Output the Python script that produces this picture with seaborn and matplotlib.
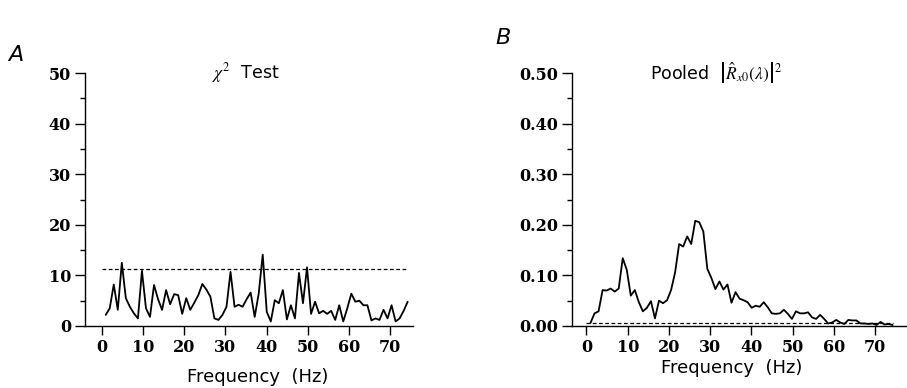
import numpy as np
import pandas as pd
import matplotlib
matplotlib.use("Agg")
import matplotlib.pyplot as plt
import seaborn as sns
from matplotlib.ticker import MultipleLocator

# ---------------- datos ----------------
# bins de frecuencia: muestreo 1000 Hz, FFT de 1024 puntos
bin_index = np.arange(1, 77)
freq_hz = bin_index * 1000.0 / 1024.0

# panel A: estadistico chi^2 por frecuencia
chi2_values = [
    2.2, 3.5, 8.2, 3.2, 12.5, 5.5, 3.8, 2.5, 1.5, 10.9,
    3.5, 1.8, 8.1, 5.3, 3.2, 7.1, 4.3, 6.3, 6.1, 2.4,
    5.5, 3.2, 4.6, 6.1, 8.3, 7.2, 5.8, 1.5, 1.2, 2.2,
    3.8, 10.7, 3.8, 4.2, 3.8, 5.3, 6.6, 1.8, 6.4, 14.1,
    2.8, 0.9, 5.1, 4.5, 7.1, 1.3, 4.1, 1.5, 10.5, 4.5,
    11.6, 2.4, 4.8, 2.5, 3.0, 2.4, 3.0, 1.2, 4.1, 0.9,
    3.5, 6.4, 4.8, 5.0, 4.1, 4.1, 1.1, 1.5, 1.2, 3.2,
    1.5, 4.1, 0.9, 1.5, 3.0, 4.8,
]
chi2_crit = 11.3

# panel B: coherencia agrupada |R_x0(lambda)|^2
coh_values = [
    0.006, 0.025, 0.029, 0.071, 0.070, 0.074, 0.068, 0.074, 0.134, 0.111,
    0.060, 0.071, 0.047, 0.029, 0.036, 0.049, 0.015, 0.050, 0.045, 0.051,
    0.071, 0.106, 0.162, 0.157, 0.177, 0.162, 0.208, 0.205, 0.187, 0.113,
    0.095, 0.073, 0.088, 0.072, 0.082, 0.046, 0.067, 0.054, 0.051, 0.047,
    0.036, 0.040, 0.038, 0.047, 0.037, 0.025, 0.024, 0.025, 0.032, 0.024,
    0.014, 0.029, 0.025, 0.025, 0.027, 0.017, 0.014, 0.022, 0.014, 0.005,
    0.007, 0.012, 0.007, 0.004, 0.012, 0.011, 0.011, 0.005, 0.005, 0.004,
    0.005, 0.002, 0.008, 0.003, 0.004, 0.002,
]
coh_crit = 0.006

x_ticks = [0, 10, 20, 30, 40, 50, 60, 70]

df = pd.DataFrame({"freq": freq_hz, "chi2": chi2_values, "coh": coh_values})

# ---------------- estilo ----------------
sns.set_style("ticks")
plt.rcParams["font.family"] = ["DejaVu Sans"]
plt.rcParams["mathtext.fontset"] = "stix"
plt.rcParams["text.color"] = "black"
plt.rcParams["axes.labelcolor"] = "black"

fig = plt.figure(figsize=(9.07, 3.88), dpi=100)
axA = fig.add_axes([0.0937, 0.1598, 0.3616, 0.652])
axB = fig.add_axes([0.6307, 0.1598, 0.3693, 0.652])


def style_axis(ax, xlim, ymax, ystep, fmt):
    ax.set_xlim(*xlim)
    ax.set_ylim(0, ymax)
    ax.set_xticks(x_ticks)
    ax.yaxis.set_major_locator(MultipleLocator(ystep))
    ax.yaxis.set_minor_locator(MultipleLocator(ystep / 2))
    ax.yaxis.set_major_formatter(plt.FormatStrFormatter(fmt))
    sns.despine(ax=ax)
    for s in ("left", "bottom"):
        ax.spines[s].set_linewidth(1.0)
        ax.spines[s].set_color("black")
    ax.tick_params(axis="y", which="major", length=7, width=1.0, pad=3, colors="black")
    ax.tick_params(axis="y", which="minor", length=3.5, width=1.0, colors="black")
    ax.tick_params(axis="x", which="major", length=6.5, width=1.0, pad=3, colors="black")
    for lab in ax.get_xticklabels() + ax.get_yticklabels():
        lab.set_fontfamily("DejaVu Serif")
        lab.set_fontsize(11.5)
        lab.set_fontweight("bold")


# ---------------- panel A ----------------
sns.lineplot(data=df, x="freq", y="chi2", ax=axA, color="black", linewidth=1.3)
axA.hlines(chi2_crit, 0, freq_hz[-1], colors="black", linestyles=(0, (3, 2)), linewidth=0.9)
style_axis(axA, (-4.05, 75.5), 50, 10, "%d")
axA.set_xlabel("Frequency  (Hz)", fontsize=13, color="black")
axA.xaxis.set_label_coords(0.527, -0.20)
axA.xaxis.label.set_verticalalignment("center")
axA.set_ylabel("")
axA.text(0.49, 1.0, r"$\chi^2$  Test", transform=axA.transAxes,
         ha="center", va="center", fontsize=12.5, color="black")

# ---------------- panel B ----------------
sns.lineplot(data=df, x="freq", y="coh", ax=axB, color="black", linewidth=1.3)
axB.hlines(coh_crit, 0, freq_hz[-1], colors="black", linestyles=(0, (3, 2)), linewidth=0.9)
style_axis(axB, (-3.5, 77.7), 0.5, 0.1, "%.2f")
axB.set_xlabel("Frequency  (Hz)", fontsize=13, color="black")
axB.xaxis.set_label_coords(0.478, -0.166)
axB.xaxis.label.set_verticalalignment("center")
axB.set_ylabel("")
axB.text(0.43, 1.0, r"Pooled  $\left|\hat{R}_{x0}(\lambda)\right|^2$", transform=axB.transAxes,
         ha="center", va="center", fontsize=12.5, color="black")

# letras de panel
fig.text(0.0176, 0.858, "A", fontsize=16, fontstyle="italic", ha="center", va="center")
fig.text(0.555, 0.902, "B", fontsize=16, fontstyle="italic", ha="center", va="center")

fig.savefig("out.png", dpi=100)
